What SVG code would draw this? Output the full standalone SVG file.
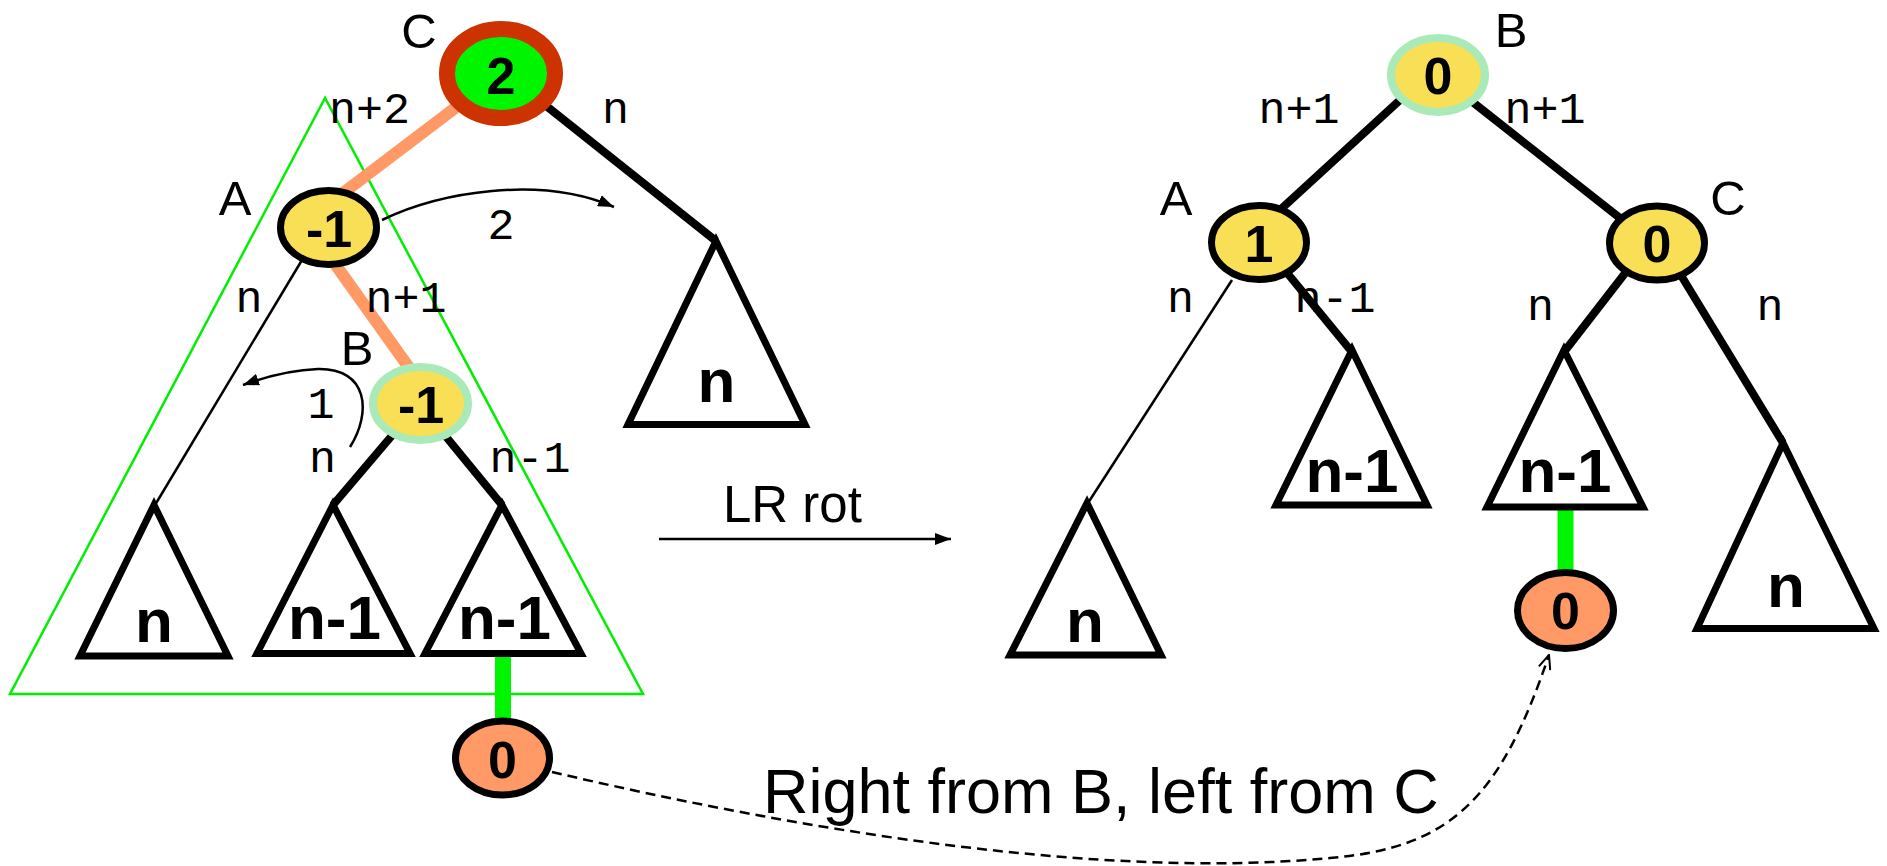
<svg xmlns="http://www.w3.org/2000/svg" width="1887" height="866" viewBox="0 0 1887 866">
<defs>
<style>
.lbl{font-family:"Liberation Sans",Arial,sans-serif;font-size:49px;fill:#000;text-anchor:middle}
.mono{font-family:"Liberation Mono","Courier New",monospace;font-size:45px;fill:#000;text-anchor:middle}
.num{font-family:"Liberation Sans",Arial,sans-serif;font-size:52px;font-weight:bold;fill:#000;text-anchor:middle}
.tri{font-family:"Liberation Sans",Arial,sans-serif;font-size:62px;font-weight:bold;fill:#000;text-anchor:middle}
.big{font-family:"Liberation Sans",Arial,sans-serif;fill:#000}
.subtree{fill:#fff;stroke:#000;stroke-width:7;stroke-linejoin:miter}
.edge{stroke:#000;stroke-width:8;fill:none}
.thin{stroke:#000;stroke-width:2.5;fill:none}
.hl{stroke:#FF9966;stroke-width:12;fill:none}
.gl{stroke:#00F500;stroke-width:16;fill:none}
.yel{fill:#F9DF55;stroke:#000;stroke-width:7}
.yelg{fill:#F9DF55;stroke:#AAEAB8;stroke-width:8}
.org{fill:#FF9966;stroke:#000;stroke-width:7}
</style>
<marker id="ah" viewBox="0 0 16 12" refX="16" refY="6" markerWidth="16" markerHeight="12" markerUnits="userSpaceOnUse" orient="auto">
<path d="M0,0 L16,6 L0,12 Z" fill="#000"/>
</marker>
<marker id="ao" viewBox="0 0 16 14" refX="15" refY="7" markerWidth="16" markerHeight="14" markerUnits="userSpaceOnUse" orient="auto">
<path d="M1,1 L15,7 L1,13" fill="none" stroke="#000" stroke-width="2"/>
</marker>
</defs>
<rect width="1887" height="866" fill="#fff"/>

<!-- green subtree outline -->
<polygon id="outline" points="325,98 10,694 643,694" fill="none" stroke="#00EE00" stroke-width="2.5"/>

<g id="connectors">
<line class="hl" x1="492" y1="80" x2="318" y2="212"/>
<line class="hl" x1="315" y1="236" x2="425" y2="390"/>
<line class="edge" x1="530" y1="93" x2="716" y2="241"/>
<line class="thin" x1="305" y1="255" x2="155" y2="505"/>
<line class="edge" stroke-width="9" x1="395" y1="432" x2="333" y2="505"/>
<line class="edge" stroke-width="9" x1="443" y1="433" x2="502" y2="505"/>
<line class="gl" x1="503" y1="655" x2="503" y2="722"/>
<line class="edge" x1="1400" y1="100" x2="1280" y2="210"/>
<line class="edge" x1="1470" y1="100" x2="1625" y2="222"/>
<line class="thin" x1="1232" y1="280" x2="1088" y2="503"/>
<line class="edge" x1="1288" y1="274" x2="1352" y2="352"/>
<line class="edge" x1="1626" y1="272" x2="1564" y2="352"/>
<line class="edge" x1="1682" y1="277" x2="1783" y2="443"/>
<line class="gl" x1="1565.5" y1="505" x2="1565.5" y2="572"/>
<path class="thin" d="M382,220 C440,192 540,175 614,207" marker-end="url(#ah)"/>
<path class="thin" d="M350,447 C372,412 368,368 318,369 C290,370 265,377 243,385" marker-end="url(#ah)"/>
<line class="thin" x1="659" y1="539" x2="951" y2="539" marker-end="url(#ah)"/>
<path class="thin" stroke-dasharray="10,6" d="M552,772 C800,830 1100,880 1330,858 C1450,848 1500,800 1549,655" marker-end="url(#ao)"/>
</g>

<g id="tri-left-n"><polygon class="subtree" points="154,505 80,656 228,656"/><text class="tri" x="154" y="642">n</text></g>
<g id="tri-left-n1a"><polygon class="subtree" points="333,505 257,653.5 410,653.5"/><text class="tri" x="334.5" y="639">n-1</text></g>
<g id="tri-left-n1b"><polygon class="subtree" points="502,505 425,653.5 581,653.5"/><text class="tri" x="504.5" y="639">n-1</text></g>
<g id="tri-left-right-n"><polygon class="subtree" points="716,241 628,424.5 805,424.5"/><text class="tri" x="716.5" y="402">n</text></g>

<g id="tri-r-n"><polygon class="subtree" points="1087,503 1010,655 1161,655"/><text class="tri" x="1085" y="642">n</text></g>
<g id="tri-r-n1a"><polygon class="subtree" points="1352,350 1276,505 1427,505"/><text class="tri" x="1352" y="492">n-1</text></g>
<g id="tri-r-n1b"><polygon class="subtree" points="1564,350 1487,507 1643,507"/><text class="tri" x="1565" y="492">n-1</text></g>
<g id="tri-r-right-n"><polygon class="subtree" points="1783,443 1697,628.5 1874,628.5"/><text class="tri" x="1786" y="607">n</text></g>

<g id="node-C-left"><ellipse cx="501" cy="73.5" rx="54" ry="44.5" fill="#00F500" stroke="#CC3300" stroke-width="16"/><text class="num" x="501" y="94">2</text><text class="lbl" x="419" y="48">C</text></g>
<g id="node-A-left"><ellipse class="yel" cx="328.5" cy="227.5" rx="48" ry="37"/><text class="num" x="329" y="247">-1</text><text class="lbl" x="235" y="215">A</text></g>
<g id="node-B-left"><ellipse class="yelg" cx="420.5" cy="403.5" rx="47.5" ry="36.5"/><text class="num" x="421" y="423">-1</text><text class="lbl" x="357" y="365">B</text></g>
<g id="node-0-left"><ellipse class="org" cx="502.5" cy="758" rx="47" ry="37"/><text class="num" x="502.5" y="777.5">0</text></g>

<g id="node-B-right"><ellipse class="yelg" cx="1438" cy="75" rx="47" ry="37"/><text class="num" x="1438" y="93.5">0</text><text class="lbl" x="1511" y="47">B</text></g>
<g id="node-A-right"><ellipse class="yel" cx="1259" cy="242.5" rx="47.5" ry="37"/><text class="num" x="1259" y="262">1</text><text class="lbl" x="1176" y="215">A</text></g>
<g id="node-C-right"><ellipse class="yel" cx="1657" cy="243" rx="47.5" ry="37"/><text class="num" x="1657" y="261.5">0</text><text class="lbl" x="1728" y="215">C</text></g>
<g id="node-0-right"><ellipse class="org" cx="1565.5" cy="610.5" rx="48" ry="38"/><text class="num" x="1565.5" y="629">0</text></g>

<g id="edge-labels">
<text class="mono" x="369.5" y="123">n+2</text>
<text class="mono" x="615.5" y="123">n</text>
<text class="mono" x="501" y="239">2</text>
<text class="mono" x="249" y="312">n</text>
<text class="mono" x="406" y="312">n+1</text>
<text class="mono" x="321" y="418">1</text>
<text class="mono" x="322.5" y="472">n</text>
<text class="mono" x="530" y="472">n-1</text>
<text class="mono" x="1299" y="123">n+1</text>
<text class="mono" x="1545" y="123">n+1</text>
<text class="mono" x="1180.5" y="312">n</text>
<text class="mono" x="1335" y="312">n-1</text>
<text class="mono" x="1540.5" y="320">n</text>
<text class="mono" x="1770" y="320">n</text>
</g>

<text class="big" x="723" y="522" font-size="51">LR rot</text>
<text class="big" x="763" y="813" font-size="63">Right from B, left from C</text>
</svg>
